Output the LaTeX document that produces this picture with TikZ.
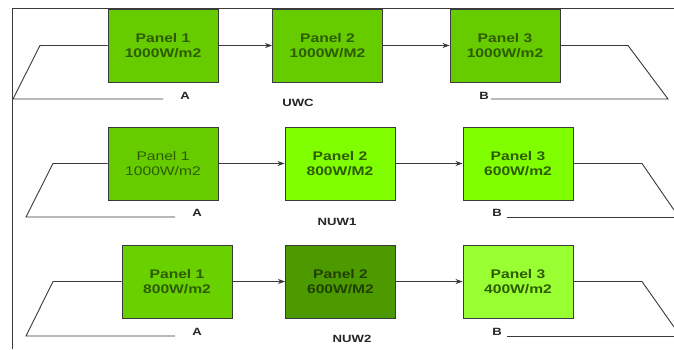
\documentclass[tikz,border=0pt]{standalone}
\usepackage{fontspec}
\setmainfont{Liberation Sans}
\usetikzlibrary{arrows.meta}
\definecolor{gA}{HTML}{66CC00}
\definecolor{gB}{HTML}{80FF00}
\definecolor{gC}{HTML}{4D9900}
\definecolor{gD}{HTML}{99FF33}
\definecolor{txt}{HTML}{2E5C00}
\definecolor{ln}{HTML}{3A3A3A}
\newcommand{\wl}[1]{\scalebox{1.25}[1]{#1}}
\tikzset{
  panel/.style={draw=ln, line width=0.9pt, minimum width=110pt, minimum height=73pt,
    inner sep=0pt, align=center, font=\bfseries\fontsize{12.5}{15}\selectfont, text=txt},
  wire/.style={draw=ln, line width=0.9pt},
  arr/.style={wire, -{Stealth[length=7pt,width=5pt]}},
  lab/.style={font=\bfseries\fontsize{10.5}{12}\selectfont, text=black!85, inner sep=0pt}
}
\begin{document}
\begin{tikzpicture}[x=1pt,y=-1pt]
\useasboundingbox (0,0) rectangle (674,349);
\fill[white] (0,0) rectangle (674,349);
% frame
\coordinate (ftl) at (12,8.5);
\coordinate (ftr) at (674,8.5);
\coordinate (fbl) at (12,349);
\draw[wire] (ftr) -- (ftl) -- (fbl);

% ---------- Row 1 : UWC ----------
\node[panel, fill=gA] (a1) at (163,45.5) {\wl{Panel 1}\\\wl{1000W/m2}};
\node[panel, fill=gA] (a2) at (327.5,45.5) {\wl{Panel 2}\\\wl{1000W/M2}};
\node[panel, fill=gA] (a3) at (505,45.5) {\wl{Panel 3}\\\wl{1000W/m2}};
\draw[arr] (a1) -- (a2);
\draw[arr] (a2) -- (a3);
\coordinate (al1) at (40,45.5);
\coordinate (al2) at (13,99);
\coordinate (al3) at (163,99);
\draw[wire] (a1.west) -- (al1) -- (al2) -- (al3);
\coordinate (ar1) at (628,45.5);
\coordinate (ar2) at (668,99);
\coordinate (ar3) at (491,99);
\draw[wire] (a3.east) -- (ar1) -- (ar2) -- (ar3);
\node[lab] (lA1) at (185,96) {\wl{A}};
\node[lab] (lB1) at (484,96) {\wl{B}};
\node[lab] (lU1) at (298,103) {\wl{UWC}};

% ---------- Row 2 : NUW1 ----------
\node[panel, fill=gA, font=\fontsize{12.5}{15}\selectfont, text=txt] (b1) at (163,163.5) {\wl{Panel 1}\\\wl{1000W/m2}};
\node[panel, fill=gB] (b2) at (340,163.5) {\wl{Panel 2}\\\wl{800W/M2}};
\node[panel, fill=gB] (b3) at (518,163.5) {\wl{Panel 3}\\\wl{600W/m2}};
\draw[arr] (b1) -- (b2);
\draw[arr] (b2) -- (b3);
\coordinate (bl1) at (53,163.5);
\coordinate (bl2) at (26,217);
\coordinate (bl3) at (175,217);
\draw[wire] (b1.west) -- (bl1) -- (bl2) -- (bl3);
\coordinate (br1) at (642,163.5);
\coordinate (br2) at (674,210);
\coordinate (br3) at (674,217);
\coordinate (br4) at (507,217);
\draw[wire] (b3.east) -- (br1) -- (br2);
\draw[wire] (br3) -- (br4);
\node[lab] (lA2) at (197,213) {\wl{A}};
\node[lab] (lB2) at (497,213) {\wl{B}};
\node[lab] (lU2) at (337,222) {\wl{NUW1}};

% ---------- Row 3 : NUW2 ----------
\node[panel, fill=gA!90!gB] (c1) at (177,281.5) {\wl{Panel 1}\\\wl{800W/m2}};
\node[panel, fill=gC, text=txt!70!black] (c2) at (340.5,281.5) {\wl{Panel 2}\\\wl{600W/M2}};
\node[panel, fill=gD] (c3) at (518,281.5) {\wl{Panel 3}\\\wl{400W/m2}};
\draw[arr] (c1) -- (c2);
\draw[arr] (c2) -- (c3);
\coordinate (cl1) at (53,281.5);
\coordinate (cl2) at (26,336);
\coordinate (cl3) at (175,336);
\draw[wire] (c1.west) -- (cl1) -- (cl2) -- (cl3);
\coordinate (cr1) at (642,281.5);
\coordinate (cr2) at (674,327);
\coordinate (cr3) at (674,336);
\coordinate (cr4) at (507,336);
\draw[wire] (c3.east) -- (cr1) -- (cr2);
\draw[wire] (cr3) -- (cr4);
\node[lab] (lA3) at (197,332) {\wl{A}};
\node[lab] (lB3) at (497,332) {\wl{B}};
\node[lab] (lU3) at (352,339) {\wl{NUW2}};
\end{tikzpicture}
\end{document}
